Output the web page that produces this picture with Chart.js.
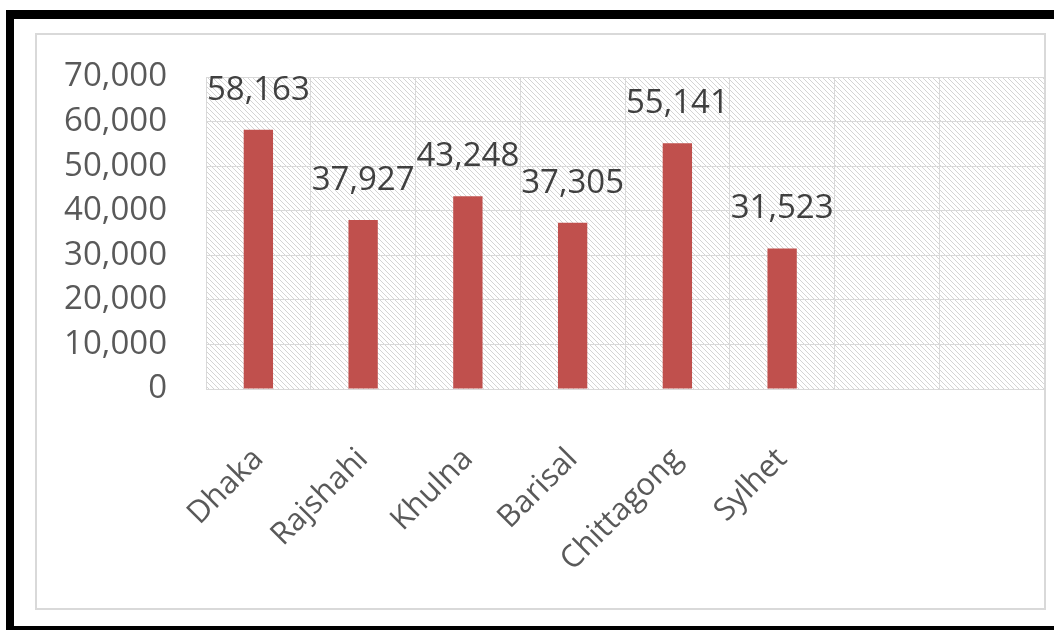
<!DOCTYPE html>
<html>
<head>
<meta charset="utf-8">
<script src="https://cdn.jsdelivr.net/npm/chart.js@4"></script>
<style>
  body { margin: 0; background: #fff; }
  #wrap { position: relative; width: 1054px; height: 630px; overflow: hidden; }
  #chart1 { position: absolute; left: 0; top: 0; }
  .frame { position: absolute; box-sizing: border-box; pointer-events: none; }
  #outer { left: 6px; top: 10px; width: 1100px; height: 622px; border-top: 9px solid #000; border-left: 8px solid #000; border-bottom: 6px solid #000; }
  #inner { left: 35px; top: 33px; width: 1011px; height: 577px; border: 2px solid #d9d9d9; }
</style>
</head>
<body>
<div id="wrap">
  <canvas id="chart1" width="1054" height="630"></canvas>
  <div class="frame" id="outer"></div>
  <div class="frame" id="inner"></div>
</div>
<script>
// data divisi
const divisions = ['Dhaka', 'Rajshahi', 'Khulna', 'Barisal', 'Chittagong', 'Sylhet', '', ''];
const values = [58163, 37927, 43248, 37305, 55141, 31523, null, null];
const yTicks = [0, 10000, 20000, 30000, 40000, 50000, 60000, 70000];

const fmt = v => v.toLocaleString('en-US');

// pola arsir untuk area plot
function makeHatch() {
    const c = document.createElement('canvas');
    c.width = 5; c.height = 5;
    const g = c.getContext('2d');
    g.fillStyle = '#ffffff';
    g.fillRect(0, 0, 5, 5);
    g.strokeStyle = '#d4d4d4';
    g.lineWidth = 1;
    g.beginPath();
    g.moveTo(-1, -1); g.lineTo(6, 6);
    g.moveTo(-1, 4); g.lineTo(1, 6);
    g.moveTo(4, -1); g.lineTo(6, 1);
    g.stroke();
    return c;
}

const hatchBg = {
    id: 'hatchBg',
    beforeDraw(chart) {
        const { ctx, chartArea: a } = chart;
        ctx.save();
        ctx.fillStyle = ctx.createPattern(makeHatch(), 'repeat');
        ctx.fillRect(a.left, a.top, a.right - a.left, a.bottom - a.top);
        ctx.restore();
    }
};

// label nilai di atas batang
const valueLabels = {
    id: 'valueLabels',
    afterDatasetsDraw(chart) {
        const ctx = chart.ctx;
        const meta = chart.getDatasetMeta(0);
        ctx.save();
        ctx.font = '33px "Open Sans"';
        ctx.fillStyle = '#404040';
        ctx.textAlign = 'center';
        ctx.textBaseline = 'alphabetic';
        meta.data.forEach((bar, i) => {
            if (values[i] == null) return;
            ctx.fillText(fmt(values[i]), bar.x, bar.y - 30);
        });
        ctx.restore();
    }
};

const ctx = document.getElementById('chart1').getContext('2d');
window.chart = new Chart(ctx, {
    type: 'bar',
    data: {
        labels: divisions,
        datasets: [{
            data: values,
            backgroundColor: '#c0504d',
            categoryPercentage: 1,
            barPercentage: 0.28
        }]
    },
    options: {
        responsive: false,
        animation: false,
        layout: { padding: { top: 77, right: 10, left: 0, bottom: 0 } },
        plugins: { legend: { display: false }, tooltip: { enabled: false } },
        scales: {
            x: {
                grid: { color: '#d9d9d9', drawTicks: false, offset: true },
                border: { color: '#d9d9d9' },
                ticks: {
                    autoSkip: false,
                    minRotation: 45,
                    maxRotation: 45,
                    padding: 52,
                    color: '#595959',
                    font: { family: 'Open Sans', size: 31 }
                },
                afterFit: s => {
                    s.height = 241;
                    s.paddingLeft = 0;
                    s.paddingRight = 0;
                }
            },
            y: {
                min: 0,
                max: 70000,
                grid: { color: '#d9d9d9', drawTicks: false },
                border: { display: false },
                afterBuildTicks: s => { s.ticks = yTicks.map(v => ({ value: v })); },
                ticks: {
                    padding: 39,
                    color: '#595959',
                    font: { family: 'Open Sans', size: 33 },
                    callback: v => fmt(v)
                },
                afterFit: s => {
                    s.width = 206;
                    s.paddingTop = 0;
                    s.paddingBottom = 0;
                }
            }
        }
    },
    plugins: [hatchBg, valueLabels]
});
</script>
</body>
</html>
